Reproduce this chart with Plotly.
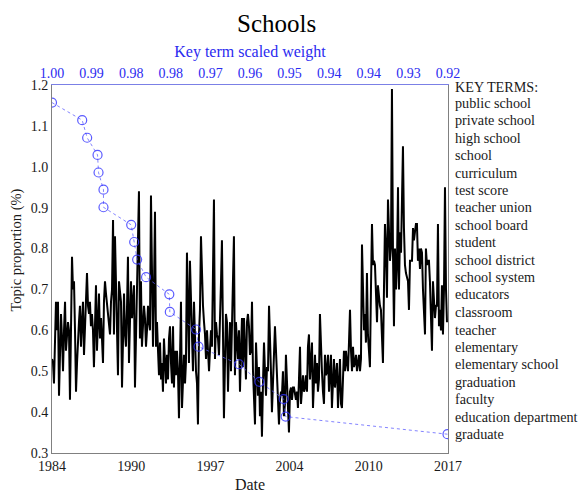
import plotly.graph_objects as go
import pandas as pd

# Monthly topic proportion (%), Jan 1984 onward
values_1984_1991 = [
    0.53, 0.52, 0.47, 0.58, 0.67, 0.60, 0.67, 0.44, 0.55, 0.64,
    0.58, 0.50, 0.60, 0.67, 0.55, 0.58, 0.62, 0.60, 0.43, 0.60,
    0.78, 0.70, 0.72, 0.60, 0.45, 0.52, 0.59, 0.62, 0.66, 0.56,
    0.62, 0.67, 0.54, 0.60, 0.66, 0.74, 0.66, 0.64, 0.67, 0.61,
    0.64, 0.60, 0.51, 0.66, 0.71, 0.55, 0.64, 0.69, 0.58, 0.63,
    0.58, 0.52, 0.67, 0.72, 0.69, 0.66, 0.63, 0.60, 0.59, 0.67,
    0.70, 0.87, 0.59, 0.83, 0.73, 0.62, 0.49, 0.72, 0.69, 0.67,
    0.46, 0.60, 0.69, 0.59, 0.56, 0.65, 0.78, 0.52, 0.62, 0.72,
    0.63, 0.67, 0.71, 0.46, 0.58, 0.67, 0.80, 0.94, 0.58, 0.72,
    0.56, 0.62, 0.66, 0.63, 0.56, 0.60, 0.66, 0.62,
]
values_1992_1999 = [
    0.60, 0.93, 0.70, 0.56, 0.70, 0.89, 0.56, 0.62, 0.55, 0.49,
    0.57, 0.48, 0.52, 0.45, 0.58, 0.52, 0.47, 0.54, 0.48, 0.58,
    0.61, 0.52, 0.47, 0.61, 0.46, 0.55, 0.49, 0.55, 0.50, 0.385,
    0.55, 0.67, 0.41, 0.50, 0.54, 0.47, 0.52, 0.79, 0.60, 0.52,
    0.77, 0.65, 0.58, 0.50, 0.67, 0.54, 0.50, 0.47, 0.37, 0.59,
    0.65, 0.83, 0.72, 0.66, 0.62, 0.59, 0.53, 0.60, 0.55, 0.50,
    0.55, 0.60, 0.56, 0.70, 0.92, 0.53, 0.62, 0.59, 0.58, 0.54,
    0.67, 0.72, 0.82, 0.54, 0.385, 0.52, 0.64, 0.62, 0.45, 0.55,
    0.62, 0.50, 0.62, 0.70, 0.83, 0.49, 0.62, 0.57, 0.53, 0.60,
    0.45, 0.55, 0.63, 0.51, 0.63, 0.55, 0.48, 0.62,
]
values_2000_2008 = [
    0.64, 0.61, 0.54, 0.55, 0.67, 0.50, 0.44, 0.37, 0.57, 0.50,
    0.44, 0.51, 0.39, 0.45, 0.34, 0.47, 0.57, 0.50, 0.44, 0.51,
    0.50, 0.66, 0.55, 0.50, 0.40, 0.49, 0.54, 0.61, 0.55, 0.50,
    0.41, 0.37, 0.43, 0.45, 0.44, 0.50, 0.39, 0.42, 0.54, 0.47,
    0.44, 0.35, 0.45, 0.46, 0.43, 0.46, 0.46, 0.44, 0.43, 0.45,
    0.41, 0.48, 0.56, 0.42, 0.45, 0.49, 0.45, 0.46, 0.49, 0.45,
    0.56, 0.59, 0.48, 0.52, 0.57, 0.41, 0.50, 0.54, 0.47, 0.52,
    0.45, 0.48, 0.64, 0.54, 0.50, 0.45, 0.42, 0.54, 0.49, 0.50,
    0.54, 0.45, 0.49, 0.54, 0.41, 0.49, 0.53, 0.46, 0.49, 0.52,
    0.41, 0.47, 0.53, 0.42, 0.41, 0.48, 0.55, 0.50,
]
values_2008_2016 = [
    0.55, 0.52, 0.50, 0.57, 0.65, 0.55, 0.50, 0.56, 0.51, 0.52,
    0.54, 0.50, 0.53, 0.54, 0.50, 0.53, 0.81, 0.66, 0.60, 0.64,
    0.57, 0.74, 0.59, 0.55, 0.51, 0.70, 0.86, 0.76, 0.77, 0.76,
    0.70, 0.62, 0.71, 0.67, 0.66, 0.65, 0.58, 0.52, 0.70, 0.86,
    0.80, 0.68, 0.92, 0.86, 0.77, 0.80, 1.19, 0.79, 0.61, 0.80,
    0.70, 0.76, 0.95, 0.70, 0.84, 0.79, 0.90, 1.05, 0.85, 0.76,
    0.74, 0.73, 0.72, 0.65, 0.77, 0.77, 0.77, 0.85, 0.82, 0.84,
    0.86, 0.86, 0.77, 0.80, 0.75, 0.80, 0.79, 0.70, 0.65, 0.59,
    0.80, 0.76, 0.77, 0.77, 0.72, 0.64, 0.55, 0.72, 0.67, 0.63,
    0.66, 0.66, 0.86, 0.61, 0.65, 0.60, 0.71, 0.59, 0.70, 0.95,
    0.70, 0.62,
]
topic_proportion = values_1984_1991 + values_1992_1999 + values_2000_2008 + values_2008_2016
dates = pd.date_range("1984-01-01", periods=len(topic_proportion), freq="MS")

# Key terms, their scaled weight (top axis) and row level (left axis)
key_terms = [
    "public school", "private school", "high school", "school", "curriculum",
    "test score", "teacher union", "school board", "student", "school district",
    "school system", "educators", "classroom", "teacher", "elementary",
    "elementary school", "graduation", "faculty", "education department", "graduate",
]
key_term_weights = [
    1.000, 0.9939, 0.9929, 0.9908, 0.9906, 0.9896, 0.9896, 0.9840, 0.9834, 0.9828,
    0.9810, 0.9763, 0.9762, 0.9709, 0.9704, 0.9622, 0.9581, 0.9532, 0.9528, 0.9201,
]
key_term_levels = [
    1.157, 1.114, 1.071, 1.029, 0.986, 0.944, 0.901, 0.858, 0.816, 0.773,
    0.730, 0.688, 0.645, 0.602, 0.560, 0.517, 0.474, 0.432, 0.389, 0.346,
]

date_tick_vals = ["1984-01-01", "1990-08-08", "1997-03-15", "2003-10-19", "2010-05-27", "2017-01-01"]
date_tick_text = ["1984", "1990", "1997", "2004", "2010", "2017"]
weight_tick_vals = [1.0, 0.992, 0.984, 0.976, 0.968, 0.96, 0.952, 0.944, 0.936, 0.928, 0.92]
weight_tick_text = ["1.00", "0.99", "0.98", "0.98", "0.97", "0.96", "0.95", "0.94", "0.94", "0.93", "0.92"]
y_tick_vals = [0.3, 0.4, 0.5, 0.6, 0.7, 0.8, 0.9, 1.0, 1.1, 1.2]
y_tick_text = ["0.3", "0.4", "0.5", "0.6", "0.7", "0.8", "0.9", "1.0", "1.1", "1.2"]

SERIF = "Liberation Serif"
BLUE = "#2b2bf0"
TXT = "#1a1a1a"

fig = go.Figure()
fig.add_trace(go.Scatter(
    x=dates, y=topic_proportion, mode="lines",
    line=dict(color="black", width=2), xaxis="x", yaxis="y", hoverinfo="skip",
))
fig.add_trace(go.Scatter(
    x=key_term_weights, y=key_term_levels, mode="lines+markers",
    line=dict(color="rgba(90,90,255,0.75)", width=1, dash="dot"),
    marker=dict(symbol="circle-open", size=9, color="rgba(50,50,255,0.8)", line=dict(width=1.2)),
    xaxis="x2", yaxis="y",
))

annotations = [
    dict(text="Schools", x=0.568, y=1 + (85 - 23) / 368, xref="paper", yref="paper", showarrow=False,
         font=dict(family=SERIF, size=25, color="black"), xanchor="center", yanchor="middle"),
    dict(text="Topic proportion (%)", x=-35 / 396, y=0.55, xref="paper", yref="paper",
         showarrow=False, textangle=-90, font=dict(family=SERIF, size=14.5, color=TXT),
         xanchor="center", yanchor="middle"),
    dict(text="KEY TERMS:", x=1.0134, y=1.196, xref="paper", yref="y", showarrow=False,
         xanchor="left", yanchor="middle", font=dict(family=SERIF, size=14.2, color=TXT)),
]
for term, level in zip(key_terms, key_term_levels):
    annotations.append(dict(
        text=term, x=1.0134, y=level, xref="paper", yref="y", showarrow=False,
        xanchor="left", yanchor="middle", font=dict(family=SERIF, size=14.2, color=TXT),
    ))

fig.update_layout(
    width=583, height=493,
    margin=dict(l=52, r=135, t=85, b=40, pad=0),
    plot_bgcolor="white", paper_bgcolor="white",
    showlegend=False,
    font=dict(family=SERIF, size=14, color=TXT),
    xaxis=dict(
        type="date", range=["1984-01-01", "2017-01-01"], automargin=False,
        tickmode="array", tickvals=date_tick_vals, ticktext=date_tick_text,
        showgrid=False, zeroline=False, showline=True, linecolor="#808080", linewidth=1,
        ticks="", tickfont=dict(family=SERIF, size=14, color=TXT),
        title=dict(text="Date", font=dict(family=SERIF, size=16, color=TXT), standoff=6),
    ),
    xaxis2=dict(
        overlaying="x", side="top", range=[1.0, 0.92], automargin=False,
        tickmode="array", tickvals=weight_tick_vals, ticktext=weight_tick_text,
        showgrid=False, zeroline=False, showline=True, linecolor="#7b80e6", linewidth=1,
        ticks="", tickfont=dict(family=SERIF, size=14, color=BLUE),
        title=dict(text="Key term scaled weight", font=dict(family=SERIF, size=16, color=BLUE), standoff=4),
    ),
    yaxis=dict(
        range=[0.3, 1.2], tickmode="array", tickvals=y_tick_vals, ticktext=y_tick_text,
        showgrid=False, zeroline=False, showline=True, mirror=True, automargin=False,
        linecolor="#808080", linewidth=1, ticks="",
        tickfont=dict(family=SERIF, size=14, color=TXT),
    ),
    annotations=annotations,
)

fig.write_html(
    "out.html",
    config={"displayModeBar": False, "staticPlot": True},
    post_script="document.body.style.margin='0';",
)
